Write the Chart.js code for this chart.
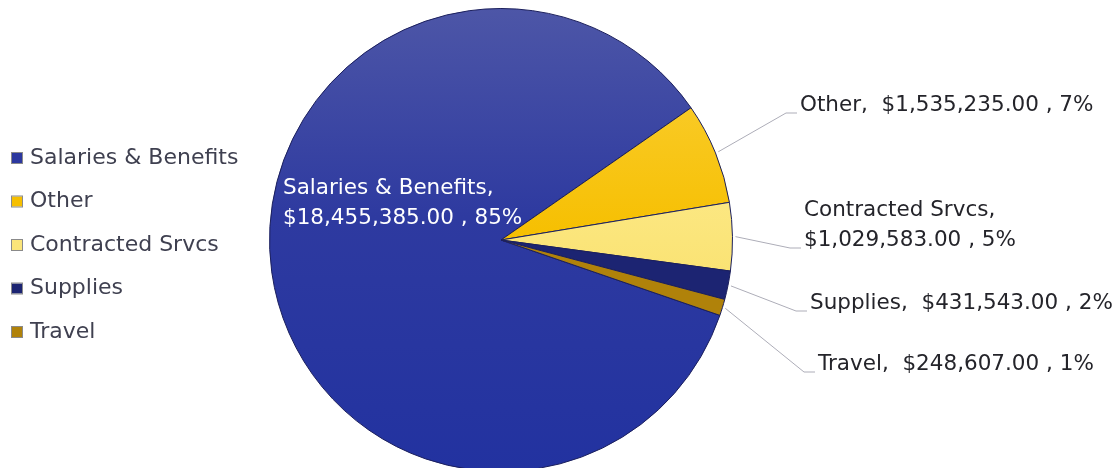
<!DOCTYPE html>
<html lang="en">
<head>
    <meta charset="UTF-8">
    <title>Budget Breakdown</title>
    <script src="https://cdn.jsdelivr.net/npm/chart.js"></script>
    <style>
        body, html {
            margin: 0;
            background-color: #fff;
            overflow: hidden; /* canvas is a bit taller than the window, pie runs off the bottom */
        }
        .chart-container {
            position: relative;
            width: 1117px;
            height: 480px;
        }
    </style>
</head>
<body>
<div class="chart-container">
    <canvas id="myPieChart" width="1117" height="480"></canvas>
</div>

<script>
    // data
    const categories = ['Salaries & Benefits', 'Other', 'Contracted Srvcs', 'Supplies', 'Travel'];
    const amounts = [18455385, 1535235, 1029583, 431543, 248607];
    const sliceColors = ['#2c389f', '#f6bf00', '#fbe57a', '#1c2472', '#b0820a'];

    const FONT = '"DejaVu Sans", sans-serif';
    const money = new Intl.NumberFormat('en-US', { minimumFractionDigits: 2, maximumFractionDigits: 2 });
    const total = amounts.reduce((a, b) => a + b, 0);

    function labelLines(i) {
        const pct = Math.round(amounts[i] / total * 100) + '%';
        const amt = '$' + money.format(amounts[i]);
        // the two long ones wrap onto a second line
        if (i === 0 || i === 2) return [categories[i] + ',', amt + ' , ' + pct];
        return [categories[i] + ',  ' + amt + ' , ' + pct];
    }

    // where each label sits, relative to the pie centre
    const labelPlacement = [
        { inside: true, dx: -218, dy: -52 },
        { dx: 299, dy: -135 },
        { dx: 303, dy: -30 },
        { dx: 309, dy: 63 },
        { dx: 317, dy: 124 }
    ];

    // gradient fills, lighter toward the top like the original
    function sliceFill(context) {
        const chart = context.chart;
        const area = chart.chartArea;
        const i = context.dataIndex;
        if (!area) return sliceColors[i];
        const g = chart.ctx.createLinearGradient(0, area.top, 0, area.bottom);
        if (i === 0) {
            g.addColorStop(0, '#4d56a7');
            g.addColorStop(0.45, '#2e3aa0');
            g.addColorStop(1, '#2232a0');
        } else if (i === 1) {
            g.addColorStop(0, '#fbd240');
            g.addColorStop(0.5, '#f6bf00');
            g.addColorStop(1, '#f2b400');
        } else if (i === 2) {
            g.addColorStop(0, '#fff2a8');
            g.addColorStop(0.5, '#fbe57a');
            g.addColorStop(1, '#f4d54c');
        } else {
            return sliceColors[i];
        }
        return g;
    }

    const sliceLabels = {
        id: 'sliceLabels',
        afterDatasetsDraw(chart) {
            const ctx = chart.ctx;
            const arcs = chart.getDatasetMeta(0).data;
            const lineH = 30;
            ctx.save();
            ctx.font = '21.5px ' + FONT;
            ctx.textBaseline = 'middle';
            ctx.textAlign = 'left';
            arcs.forEach((arc, i) => {
                const p = labelPlacement[i];
                const lines = labelLines(i);
                const tx = arc.x + p.dx;
                const ty = arc.y + p.dy;
                if (p.inside) {
                    ctx.fillStyle = '#ffffff';
                } else {
                    const mid = (arc.startAngle + arc.endAngle) / 2;
                    const r = arc.outerRadius + 3;
                    const sx = arc.x + Math.cos(mid) * r;
                    const sy = arc.y + Math.sin(mid) * r;
                    const ey = ty + (lines.length - 1) * lineH + 8;
                    ctx.strokeStyle = '#adadb8';
                    ctx.lineWidth = 1;
                    ctx.beginPath();
                    ctx.moveTo(sx, sy);
                    ctx.lineTo(tx - 14, ey);
                    ctx.lineTo(tx - 3, ey);
                    ctx.stroke();
                    ctx.fillStyle = '#24242a';
                }
                lines.forEach((t, k) => ctx.fillText(t, tx, ty + k * lineH));
            });
            ctx.restore();
        }
    };

    const sideLegend = {
        id: 'sideLegend',
        afterDraw(chart) {
            const ctx = chart.ctx;
            ctx.save();
            ctx.font = '22px ' + FONT;
            ctx.textBaseline = 'middle';
            categories.forEach((name, i) => {
                const y = 158 + i * 43.5;
                ctx.fillStyle = sliceColors[i];
                ctx.fillRect(12, y - 5, 10, 10);
                ctx.strokeStyle = '#8a8a8a';
                ctx.lineWidth = 1;
                ctx.strokeRect(11.5, y - 5.5, 11, 11);
                ctx.fillStyle = '#3f4050';
                ctx.fillText(name, 30, y);
            });
            ctx.restore();
        }
    };

    new Chart(document.getElementById('myPieChart'), {
        type: 'pie',
        data: {
            labels: categories,
            datasets: [{
                data: amounts,
                backgroundColor: sliceFill,
                borderColor: '#1b1f5c',
                borderWidth: 1
            }]
        },
        options: {
            responsive: false,
            animation: false,
            rotation: 109,
            layout: { padding: { left: 269, right: 384, top: 8, bottom: 8 } },
            plugins: {
                legend: { display: false },
                tooltip: { enabled: false }
            }
        },
        plugins: [sliceLabels, sideLegend]
    });
</script>
</body>
</html>
